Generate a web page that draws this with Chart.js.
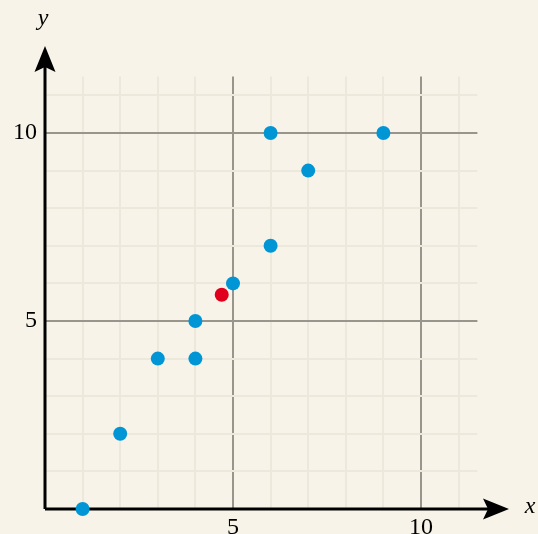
<!DOCTYPE html>
<html>
<head>
<meta charset="utf-8">
<script src="https://cdn.jsdelivr.net/npm/chart.js@4"></script>
<style>
  html, body { margin: 0; padding: 0; background: #f7f3e8; }
  #wrap { width: 538px; height: 534px; }
</style>
</head>
<body>
<div id="wrap"><canvas id="scatterChart"></canvas></div>
<script>
const xValues = [1, 2, 3, 4, 4, 5, 6, 6, 7, 9];
const yValues = [0, 2, 4, 4, 5, 6, 7, 10, 9, 10];
const meanX = [4.7];
const meanY = [5.7];
const majorTicks = [5, 10];

const toPoints = (xs, ys) => xs.map((x, i) => ({ x: x, y: ys[i] }));

const serif = '"Liberation Serif", "Times New Roman", serif';
const minorColor = 'rgb(236, 232, 219)';
const majorColor = 'rgb(152, 149, 141)';

function gridColor(ctx) {
  const v = ctx.tick ? ctx.tick.value : null;
  if (v === 0) return 'rgba(0,0,0,0)';
  return majorTicks.includes(v) ? majorColor : minorColor;
}

// axes with arrowheads plus the x / y names
const axesPlugin = {
  id: 'axesPlugin',
  beforeDatasetsDraw(chart) {
    const { ctx, scales } = chart;
    const ox = scales.x.getPixelForValue(0);
    const oy = scales.y.getPixelForValue(0);
    const xEnd = 509, yEnd = 46;
    ctx.save();
    ctx.strokeStyle = '#000';
    ctx.fillStyle = '#000';
    ctx.lineWidth = 3;
    ctx.beginPath();
    ctx.moveTo(ox, oy);
    ctx.lineTo(xEnd - 8, oy);
    ctx.moveTo(ox, oy);
    ctx.lineTo(ox, yEnd + 8);
    ctx.stroke();

    // x arrow
    ctx.beginPath();
    ctx.moveTo(xEnd, oy);
    ctx.lineTo(xEnd - 26, oy - 10.5);
    ctx.lineTo(xEnd - 21, oy);
    ctx.lineTo(xEnd - 26, oy + 10.5);
    ctx.closePath();
    ctx.fill();
    // y arrow
    ctx.beginPath();
    ctx.moveTo(ox, yEnd);
    ctx.lineTo(ox - 10.5, yEnd + 26);
    ctx.lineTo(ox, yEnd + 21);
    ctx.lineTo(ox + 10.5, yEnd + 26);
    ctx.closePath();
    ctx.fill();

    ctx.font = 'italic 24px ' + serif;
    ctx.textAlign = 'center';
    ctx.textBaseline = 'middle';
    ctx.fillText('y', ox - 2, 19);
    ctx.fillText('x', 530, oy - 2);
    ctx.restore();
  }
};

new Chart(document.getElementById('scatterChart').getContext('2d'), {
  type: 'scatter',
  data: {
    datasets: [{
      label: 'mean',
      data: toPoints(meanX, meanY),
      backgroundColor: 'rgb(224, 0, 27)',
      borderWidth: 0,
      pointRadius: 7,
      pointHoverRadius: 7,
      clip: false
    }, {
      label: 'data',
      data: toPoints(xValues, yValues),
      backgroundColor: 'rgb(0, 150, 214)',
      borderWidth: 0,
      pointRadius: 7,
      pointHoverRadius: 7,
      clip: false
    }]
  },
  options: {
    responsive: true,
    maintainAspectRatio: false,
    animation: false,
    layout: {
      padding: { left: 0, right: 60.6, top: 76.6, bottom: 0 }
    },
    plugins: {
      legend: { display: false },
      tooltip: { enabled: false }
    },
    scales: {
      x: {
        type: 'linear',
        min: 0,
        max: 11.5,
        afterFit(scale) { scale.height = 25; },
        border: { display: false },
        grid: { color: gridColor, lineWidth: 2, drawTicks: false },
        ticks: {
          stepSize: 1,
          includeBounds: false,
          autoSkip: false,
          maxRotation: 0,
          padding: 4,
          color: '#000',
          font: { family: serif, size: 24 },
          callback: v => majorTicks.includes(v) ? String(v) : ''
        }
      },
      y: {
        type: 'linear',
        min: 0,
        max: 11.5,
        afterFit(scale) { scale.width = 45; },
        border: { display: false },
        grid: { color: gridColor, lineWidth: 2, drawTicks: false },
        ticks: {
          stepSize: 1,
          includeBounds: false,
          autoSkip: false,
          padding: 8,
          color: '#000',
          font: { family: serif, size: 24 },
          callback: v => majorTicks.includes(v) ? String(v) : ''
        }
      }
    }
  },
  plugins: [axesPlugin]
});
</script>
</body>
</html>
